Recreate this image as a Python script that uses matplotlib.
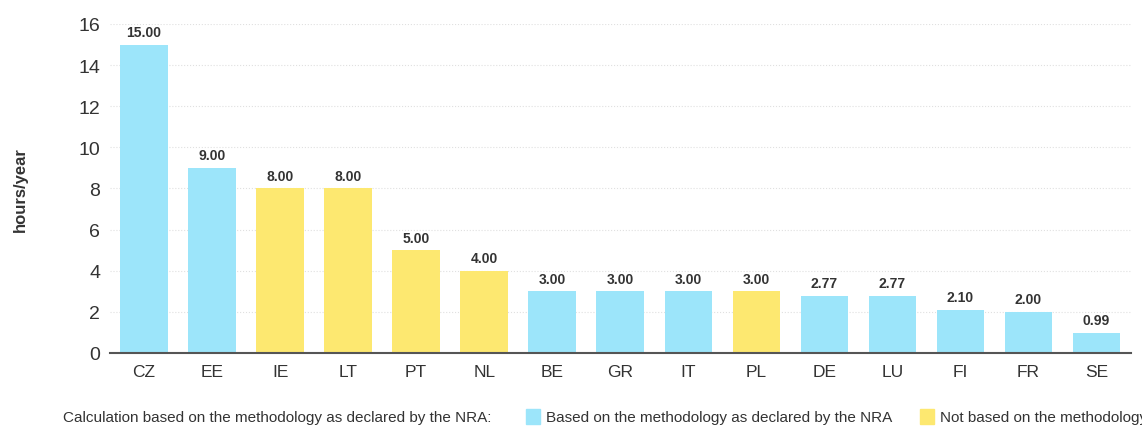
import matplotlib.pyplot as plt
from matplotlib.patches import Rectangle

# datos
paises = ['CZ', 'EE', 'IE', 'LT', 'PT', 'NL', 'BE', 'GR', 'IT', 'PL', 'DE', 'LU', 'FI', 'FR', 'SE']
horas = [15.00, 9.00, 8.00, 8.00, 5.00, 4.00, 3.00, 3.00, 3.00, 3.00, 2.77, 2.77, 2.10, 2.00, 0.99]
segun_nra = [True, True, False, False, False, False, True, True, True, False, True, True, True, True, True]

azul = '#9ce5fa'
amarillo = '#fde870'

plt.rcParams['font.family'] = ['Liberation Sans', 'DejaVu Sans']

fig = plt.figure(figsize=(11.42, 4.27), dpi=100)
ax = fig.add_axes([0.0963, 0.171, 0.8937, 0.7705])

colores = [azul if s else amarillo for s in segun_nra]
x = range(len(paises))
ax.bar(x, horas, width=0.7, color=colores, zorder=2)

# etiquetas de valor
for i, v in enumerate(horas):
    ax.annotate(f'{v:.2f}', (i, v), xytext=(0, 4), textcoords='offset points',
                ha='center', va='bottom', fontsize=10, fontweight='bold', color='#333333')

ax.set_xlim(-0.5, len(paises) - 0.5)
ax.set_ylim(0, 16)
ax.set_yticks(range(0, 17, 2))
ax.set_xticks(list(x))
ax.set_xticklabels(paises)
ax.tick_params(axis='both', length=0, colors='#333333')
ax.tick_params(axis='x', pad=8, labelsize=12.5)
ax.tick_params(axis='y', pad=7, labelsize=14)
ax.grid(axis='y', color='#e0e0e0', linestyle=':', lw=0.8, zorder=0)
for s in ['top', 'right', 'left']:
    ax.spines[s].set_visible(False)
ax.spines['bottom'].set_color('#555555')
ax.spines['bottom'].set_linewidth(1.5)
ax.set_ylabel('hours/year', fontsize=12, fontweight='bold', color='#333333')
ax.yaxis.set_label_coords(-0.080, 0.5)

# leyenda de abajo
fig.text(63 / 1142, 1 - 418 / 427, 'Calculation based on the methodology as declared by the NRA:',
         fontsize=11, color='#333333', va='center')
fig.patches.append(Rectangle((526 / 1142, 1 - 425 / 427), 14 / 1142, 15 / 427,
                             transform=fig.transFigure, color=azul))
fig.text(546 / 1142, 1 - 418 / 427, 'Based on the methodology as declared by the NRA',
         fontsize=11, color='#333333', va='center')
fig.patches.append(Rectangle((920 / 1142, 1 - 425 / 427), 14 / 1142, 15 / 427,
                             transform=fig.transFigure, color=amarillo))
fig.text(940 / 1142, 1 - 418 / 427, 'Not based on the methodology as declared by the NRA',
         fontsize=11, color='#333333', va='center')

fig.savefig('out.png', dpi=100)
